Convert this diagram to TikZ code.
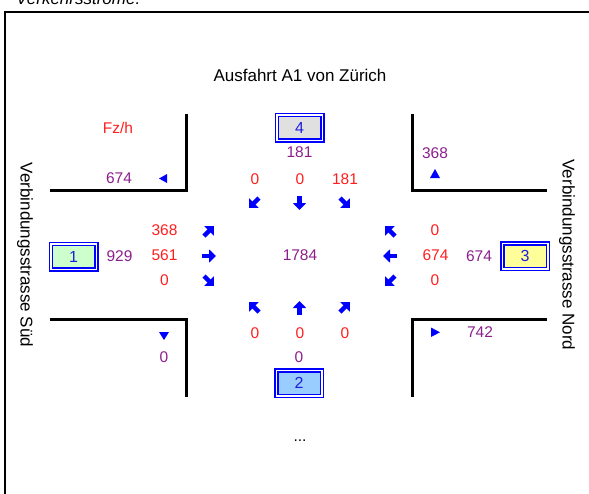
\documentclass[tikz,border=0pt]{standalone}
\usepackage{fontspec}
\setmainfont{Liberation Sans}
\usetikzlibrary{arrows.meta}
\definecolor{cred}{RGB}{255,30,30}
\definecolor{cpurple}{RGB}{140,30,140}
\definecolor{cblue}{RGB}{0,0,255}
\definecolor{cboxtxt}{RGB}{30,30,220}
\definecolor{fgrey}{RGB}{224,224,224}
\definecolor{fgreen}{RGB}{204,255,204}
\definecolor{fyellow}{RGB}{255,255,153}
\definecolor{fblue}{RGB}{153,204,255}
\begin{document}
\begin{tikzpicture}[x=1pt,y=-1pt,
  num/.style={font=\fontsize{15.5}{18}\selectfont, inner sep=0pt, anchor=center},
  redn/.style={num,text=cred},
  purn/.style={num,text=cpurple},
  lbl/.style={font=\fontsize{17}{20}\selectfont, inner sep=0pt},
  kbox/.style={draw=cblue, line width=1.5pt, double=white, double distance=1.5pt,
    minimum width=45.5pt, minimum height=25.5pt, inner sep=0pt, text=cboxtxt,
    font=\fontsize{16}{18}\selectfont},
  wall/.style={line width=3pt},
  barrow/.style={cblue, line width=4.5pt, -{Triangle[length=7pt,width=13pt]}},
  tri/.style={fill=cblue}]
\useasboundingbox (0,0) rectangle (589,493);
% caption (cut off at the top)
\node[lbl, font=\fontsize{17}{20}\selectfont\itshape, anchor=base west] (cap) at (16,4.5) {Verkehrsströme:};
% frame
\draw[line width=1.2pt] (5,500) -- (5,12) -- (600,12);
% title
\node[lbl, anchor=base] (title) at (300,81) {Ausfahrt A1 von Zürich};
% walls
\draw[wall] (50,190) -- (186,190) -- (186,114);
\draw[wall] (412,114) -- (412,190) -- (547,190);
\draw[wall] (50,319) -- (186,319) -- (186,397);
\draw[wall] (412,397) -- (412,319) -- (547,319);
% side labels
\node[lbl, rotate=-90] (sued) at (25,255) {Verbindungsstrasse Süd};
\node[lbl, rotate=-90] (nord) at (567,255) {Verbindungsstrasse Nord};
% boxes
\node[kbox, fill=fgrey] (b4) at (299.5,127.5) {4};
\node[kbox, fill=fgreen] (b1) at (73.5,256.5) {1};
\node[kbox, fill=fyellow] (b3) at (525,256) {3};
\node[kbox, fill=fblue] (b2) at (299,383) {2};
% unit
\node[redn] (unit) at (118,127.5) {Fz/h};
% purple totals
\node[purn] (p674) at (119,178.5) {674};
\node[purn] (p368) at (435,153) {368};
\node[purn] (p742) at (480,332.5) {742};
\node[purn] (p0sw) at (164,357.5) {0};
\node[purn] (p181) at (299.5,152.5) {181};
\node[purn] (p929) at (119.5,256) {929};
\node[purn] (p674e) at (479,256) {674};
\node[purn] (p0s) at (299,357.5) {0};
\node[purn] (p1784) at (300,255) {1784};
% red flows
\node[redn] (n1) at (255,179) {0};
\node[redn] (n2) at (300,179) {0};
\node[redn] (n3) at (345,179) {181};
\node[redn] (w1) at (164.5,230.5) {368};
\node[redn] (w2) at (164.5,255.5) {561};
\node[redn] (w3) at (164.5,280.5) {0};
\node[redn] (e1) at (435,230.5) {0};
\node[redn] (e2) at (435.5,255.5) {674};
\node[redn] (e3) at (435,280.5) {0};
\node[redn] (s1) at (255,333) {0};
\node[redn] (s2) at (300,333) {0};
\node[redn] (s3) at (345,333) {0};
% dots
\node[num, anchor=base] (dots) at (300,441) {...};
% triangles
\fill[tri] (159,178.5) -- (167,174) -- (167,183) -- cycle;
\fill[tri] (435,169) -- (430,178) -- (440,178) -- cycle;
\fill[tri] (159,332) -- (169,332) -- (164,340) -- cycle;
\fill[tri] (431,327.5) -- (431,337) -- (440,332.3) -- cycle;
% arrows top
\draw[barrow] (259,198) -- (249,208);
\draw[barrow] (299.5,196) -- (299.5,210);
\draw[barrow] (340,198) -- (350,208);
% arrows left
\draw[barrow] (204,236) -- (214,226);
\draw[barrow] (202,256) -- (216,256);
\draw[barrow] (204,276) -- (214,286);
% arrows right
\draw[barrow] (395,236) -- (385,226);
\draw[barrow] (397,256) -- (383,256);
\draw[barrow] (395,276) -- (385,286);
% arrows bottom
\draw[barrow] (259,312) -- (249,302);
\draw[barrow] (299.5,315) -- (299.5,301);
\draw[barrow] (340,312) -- (350,302);
\end{tikzpicture}
\end{document}
